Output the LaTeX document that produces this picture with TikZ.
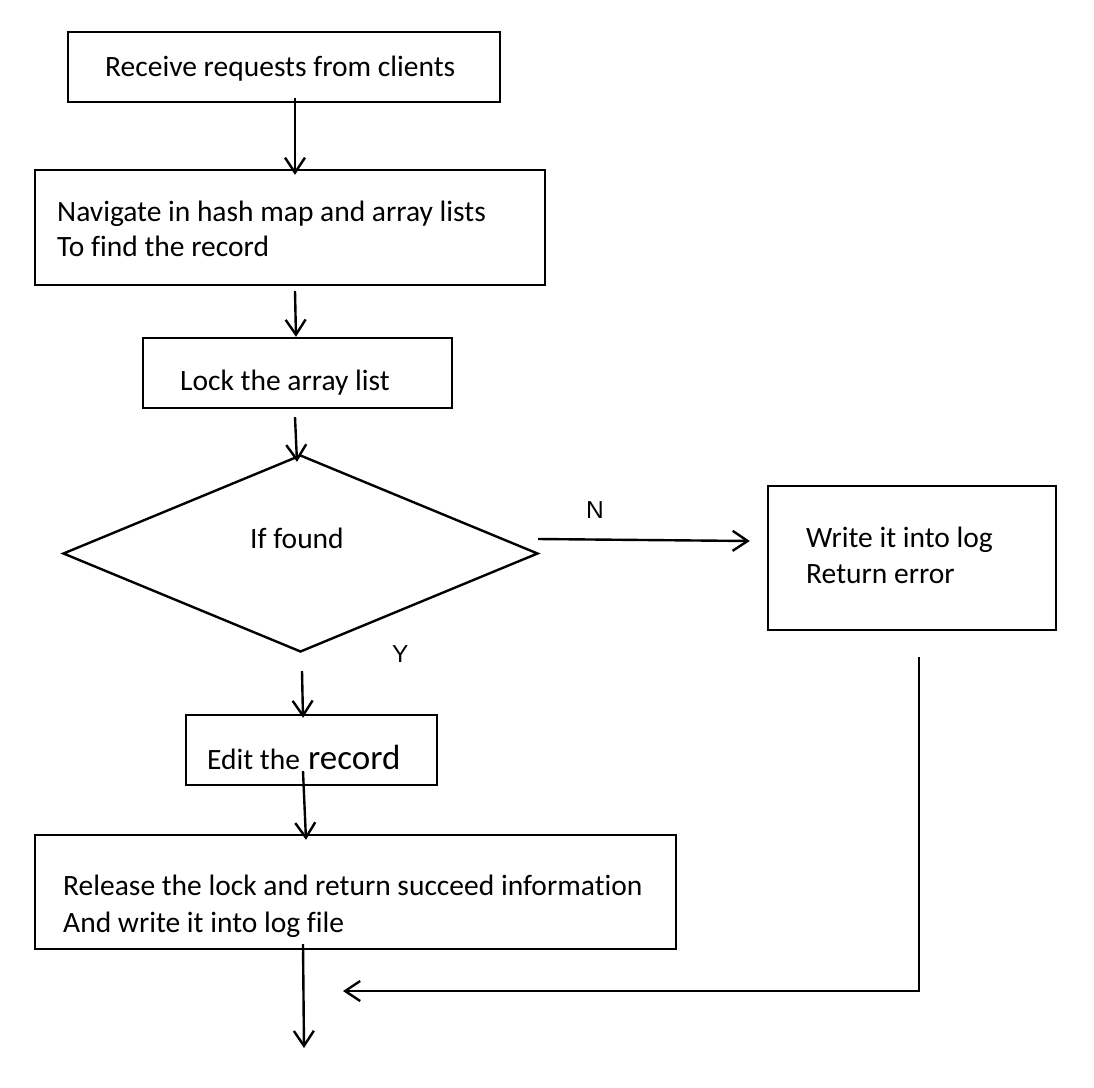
\documentclass[tikz,border=0pt]{standalone}
\usepackage{fontspec}
\setmainfont{Carlito}[Ligatures=CommonOff]
\newfontfamily\arialfont{Liberation Sans}
\usetikzlibrary{arrows.meta,shapes.geometric,calc}
\begin{document}
\begin{tikzpicture}[x=1pt,y=-1pt,
  box/.style={draw,line width=2.4pt,rectangle,inner sep=0pt},
  txt/.style={anchor=base west,inner sep=0pt,font=\fontsize{29.5}{36}\selectfont},
  lbl/.style={anchor=base west,inner sep=0pt,font=\arialfont\fontsize{24.5}{28}\selectfont},
  arr/.style={line width=2.4pt,-{Straight Barb[length=15pt,width=20pt,line width=2.4pt]}}
]
\useasboundingbox (0,0) rectangle (1094,1087);
\fill[white] (0,0) rectangle (1094,1087);

% boxes
\node[box,minimum width=432pt,minimum height=70pt] (b1) at (284,67) {};
\node[box,minimum width=510pt,minimum height=115pt] (b2) at (290,227.5) {};
\node[box,minimum width=309pt,minimum height=70pt] (b3) at (297.5,373) {};
\node[draw,line width=2.4pt,diamond,inner sep=0pt,minimum width=475pt,minimum height=197pt] (d) at (300.5,553.5) {};
\node[box,minimum width=288pt,minimum height=144pt] (b4) at (912,558) {};
\node[box,minimum width=251pt,minimum height=70pt] (b5) at (311.5,750) {};
\node[box,minimum width=641pt,minimum height=114pt] (b6) at (355.5,892) {};

% texts
\node[txt] (t1) at (105,76) {Receive requests from clients};
\node[txt] (t2a) at (57,221) {Navigate in hash map and array lists};
\node[txt] (t2b) at (57,256) {To find the record};
\node[txt] (t3) at (180,390) {Lock the array list};
\node[txt] (td) at (250,548) {If found};
\node[txt] (t4a) at (806,547) {Write it into log};
\node[txt] (t4b) at (806,583) {Return error};
\node[txt] (t5a) at (207,769) {Edit the};
\node[anchor=base west,inner sep=0pt,font=\fontsize{35}{42}\selectfont] (t5b) at (308,769) {record};
\node[txt] (t6a) at (63,895) {Release the lock and return succeed information};
\node[txt] (t6b) at (63,932) {And write it into log file};
\node[lbl] (ln) at (586,518) {N};
\node[lbl] (ly) at (392,662) {Y};

% connectors
\coordinate (endA) at (304,1048);
\coordinate (endB) at (343,991);
\draw[arr] ([xshift=11pt,yshift=5pt]b1.south) -- ([xshift=5pt,yshift=-6pt]b2.north);
\draw[arr] ([xshift=5pt,yshift=-5pt]b2.south) -- ([xshift=-1.5pt]b3.north);
\draw[arr] ([xshift=-2.5pt,yshift=-8pt]b3.south) -- ([xshift=-3.5pt,yshift=-8pt]d.north);
\draw[arr] ([xshift=-1pt,yshift=14.5pt]d.east) -- ([xshift=-17pt,yshift=17pt]b4.west);
\draw[arr] ([xshift=1.5pt,yshift=-18pt]d.south) -- ([xshift=-8.5pt,yshift=-4pt]b5.north);
\draw[arr] ([xshift=-8.5pt,yshift=15pt]b5.south) -- ([xshift=-49.5pt,yshift=-6pt]b6.north);
\draw[arr] ([xshift=-52.5pt,yshift=6pt]b6.south) -- (endA);
\draw[arr] ([xshift=7pt,yshift=-26pt]b4.south) |- (endB);
\end{tikzpicture}
\end{document}
